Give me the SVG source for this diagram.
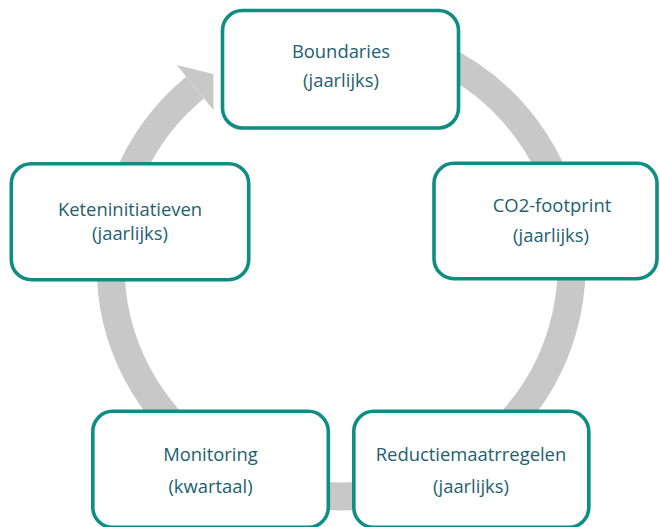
<svg xmlns="http://www.w3.org/2000/svg" width="660" height="527" viewBox="0 0 660 527">
  <style>
    .box { fill: #FFFFFF; stroke: #0E8E83; stroke-width: 3.6; }
    .lbl { font-family: "Open Sans", "Noto Sans", "Liberation Sans", sans-serif; font-size: 18.4px; fill: #22606F; text-anchor: middle; }
    .ring { fill: none; stroke: #C8C8C8; stroke-width: 28; }
    .head { fill: #C8C8C8; }
  </style>
  <rect x="0" y="0" width="660" height="527" fill="#FFFFFF"/>
  <g id="connectors">
    <path class="ring" d="M 341 35.5 A 230.5 230.5 0 1 1 195.1 87.6"/>
    <polygon class="head" points="176.7,65.1 213.4,74 213.5,110"/>
  </g>
  <g id="boundaries">
    <rect class="box" x="222.5" y="10.5" width="236" height="117.5" rx="20" ry="20"/>
    <text class="lbl" x="341" y="58">Boundaries</text>
    <text class="lbl" x="341" y="87">(jaarlijks)</text>
  </g>
  <g id="co2-footprint">
    <rect class="box" x="434" y="163.3" width="223" height="115.4" rx="20" ry="20"/>
    <text class="lbl" x="552" y="212">CO2-footprint</text>
    <text class="lbl" x="551" y="242">(jaarlijks)</text>
  </g>
  <g id="keteninitiatieven">
    <rect class="box" x="11.3" y="163.7" width="237.4" height="116" rx="20" ry="20"/>
    <text class="lbl" x="130" y="215.5">Keteninitiatieven</text>
    <text class="lbl" x="130" y="239.5">(jaarlijks)</text>
  </g>
  <g id="monitoring">
    <rect class="box" x="92.8" y="411.3" width="235.5" height="116" rx="20" ry="20"/>
    <text class="lbl" x="210.5" y="461">Monitoring</text>
    <text class="lbl" x="210.5" y="492.5">(kwartaal)</text>
  </g>
  <g id="reductiemaatrregelen">
    <rect class="box" x="353.8" y="411.3" width="235" height="116" rx="20" ry="20"/>
    <text class="lbl" x="471" y="460.5">Reductiemaatrregelen</text>
    <text class="lbl" x="471" y="492.5">(jaarlijks)</text>
  </g>
</svg>
